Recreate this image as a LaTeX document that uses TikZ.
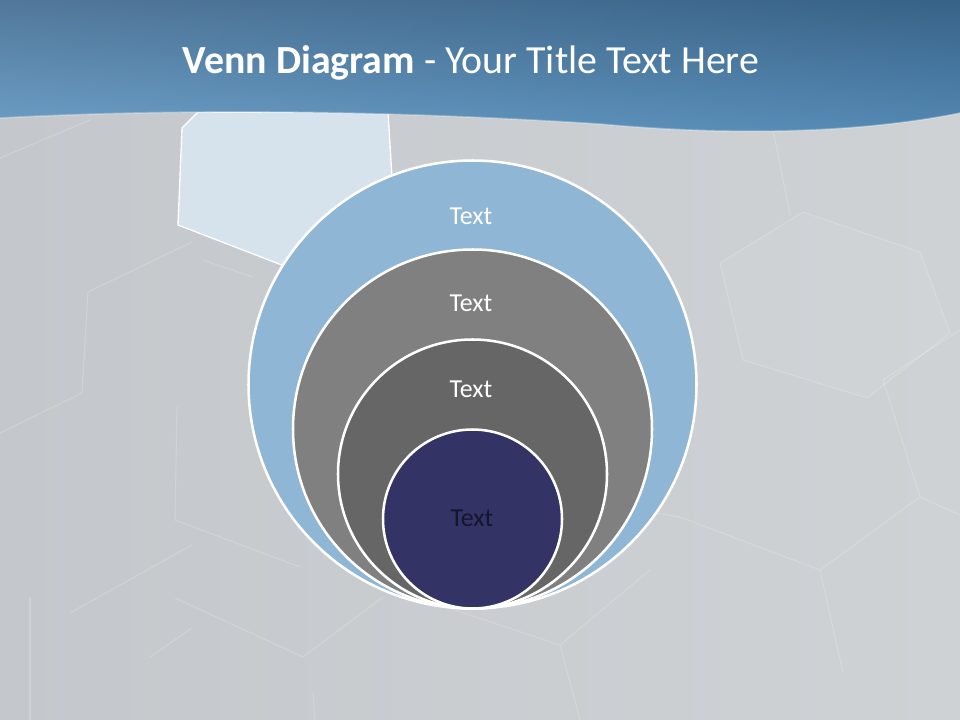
\documentclass[tikz,border=0pt]{standalone}
\usepackage{fontspec}
\setmainfont{Carlito}
\usepackage{xcolor}
\usepackage{tikz}
\usetikzlibrary{positioning}

\definecolor{bgLeft}{HTML}{C4C8CC}
\definecolor{bgRight}{HTML}{CFD2D5}
\definecolor{hdrTop}{HTML}{3A668D}
\definecolor{hdrBot}{HTML}{5A93C0}
\definecolor{hexBlue}{HTML}{D6E2EC}
\definecolor{ringBlue}{HTML}{8FB6D5}
\definecolor{ringGray}{HTML}{808080}
\definecolor{ringDark}{HTML}{666666}
\definecolor{coreNavy}{HTML}{333366}
\definecolor{coreInk}{HTML}{15152B}

\begin{document}
\begin{tikzpicture}[x=0.2646mm, y=-0.2646mm,
  hexline/.style={white, opacity=0.18, line width=0.8pt},
  ring/.style={draw=white, line width=1.9pt},
  ringtext/.style={font=\fontsize{19.5}{23}\selectfont, text=white}]
% slide background
\useasboundingbox (0,0) rectangle (960,720);
\shade[left color=bgLeft, right color=bgRight] (0,0) rectangle (960,720);
% faint hexagon tiles
\fill[white, opacity=0.06] (720,263) -- (803,212) -- (920,252) -- (950,333) -- (867,398) -- (743,360) -- cycle;
\draw[hexline] (720,263) -- (803,212) -- (920,252) -- (950,333) -- (867,398) -- (743,360) -- cycle;
\draw[hexline] (960,330) -- (883,380) -- (920,497) -- (960,515);
\draw[hexline] (773,130) -- (790,215);
\draw[hexline] (648,470) -- (650,512) -- (680,517) -- (820,570) -- (843,673);
\draw[hexline] (820,570) -- (920,497);
\draw[hexline] (0,158) -- (90,120);
\draw[hexline] (0,433) -- (82,393) -- (88,292) -- (192,242);
\draw[hexline] (203,260) -- (253,277);
\draw[hexline] (177,407) -- (175,520) -- (300,567);
\draw[hexline] (70,613) -- (192,545);
\draw[hexline] (30,598) -- (30,720);
\draw[hexline] (175,598) -- (303,657) -- (383,597);
\draw[hexline] (150,657) -- (192,628);
\draw[hexline] (440,605) -- (560,645) -- (650,570);
\draw[hexline] (560,645) -- (580,720);
\draw[hexline] (313,693) -- (315,720);
% light blue tile behind the circles
\filldraw[fill=hexBlue, draw=white, line width=1pt]
  (182,128) -- (198,112) -- (388,112) -- (394,210) -- (300,272) -- (178,225) -- cycle;
% header band with wavy lower edge
\shade[top color=hdrTop, bottom color=hdrBot]
  (0,0) -- (960,0) -- (960,113) .. controls (850,135) and (720,135) .. (600,124)
  .. controls (350,108) and (150,110) .. (0,118) -- cycle;
\shade[left color=white, right color=hdrTop!70!black, opacity=0.12]
  (0,0) -- (960,0) -- (960,113) .. controls (850,135) and (720,135) .. (600,124)
  .. controls (350,108) and (150,110) .. (0,118) -- cycle;
\draw[white, opacity=0.3, line width=1.2pt]
  (960,113) .. controls (850,135) and (720,135) .. (600,124)
  .. controls (350,108) and (150,110) .. (0,118);
\node[anchor=base, text=white, font=\fontsize{30}{36}\selectfont] (title) at (471,73)
  {\textbf{Venn Diagram} - Your Title Text Here};
% nested circles, all touching at the bottom
\filldraw[ring, fill=ringBlue] (472.5,384.5) circle [radius=224];
\filldraw[ring, fill=ringGray] (472.5,429) circle [radius=179.5];
\filldraw[ring, fill=ringDark] (472.5,474) circle [radius=134.5];
\filldraw[ring, fill=coreNavy] (472.5,519) circle [radius=89.5];
% labels
\node[ringtext] (outerText) at (471,216.5) {Text};
\node[ringtext] (middleText) at (471,303) {Text};
\node[ringtext] (innerText) at (471,389) {Text};
\node[ringtext, text=coreInk] (coreText) at (472,518) {Text};
\end{tikzpicture}
\end{document}
